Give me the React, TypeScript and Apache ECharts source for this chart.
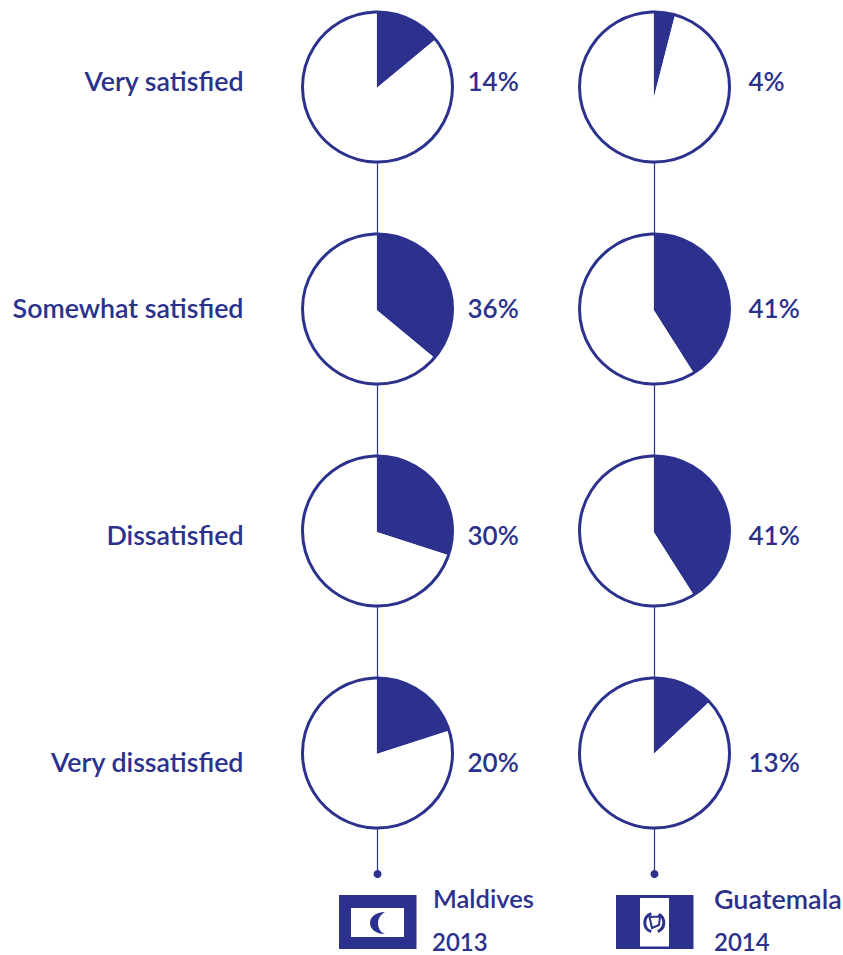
import React, { useEffect, useRef } from "react";
import * as echarts from "echarts";

const INK = "#2b318c";
const FONT = "Lato, sans-serif";
const categories = ["Very satisfied", "Somewhat satisfied", "Dissatisfied", "Very dissatisfied"];
const maldives = [14, 36, 30, 20];
const guatemala = [4, 41, 41, 13];
const places = ["Maldives", "Guatemala"];
const years = ["2013", "2014"];
const rowY = [87, 309, 531, 753];
const labelY = [81, 308, 535, 762];
const colX = [377.5, 654.5];
const pctX = [467.5, 748.5];
const nameX = [433, 714];
const nameSize = [25.5, 26.9];
const R = 75;

echarts.graphic.registerShape("crescent", echarts.graphic.extendPath(
  "M16 0C6 0 0 6 0 13C0 20 6 26 16 26C11 24 8.5 19 8.5 13C8.5 8 11 3 16 0Z", {}
) as any);

export default function App() {
  const ref = useRef<HTMLDivElement>(null);
  useEffect(() => {
    const chart = echarts.init(ref.current!, null, { renderer: "svg" });
    const pieSeries: any[] = [];
    const graphics: any[] = [];
    [maldives, guatemala].forEach((values, c) => {
      values.forEach((v, r) => {
        const dy = c === 1 && r === 0 ? 10 : 0;
        pieSeries.push({
          type: "pie",
          center: [colX[c] - 0.8, rowY[r] + dy + 1],
          radius: [0, R + dy + 0.6],
          startAngle: 90,
          clockwise: true,
          silent: true,
          label: { show: false },
          labelLine: { show: false },
          data: [
            { name: categories[r], value: v, itemStyle: { color: INK } },
            { name: "rest", value: 100 - v, itemStyle: { color: "#ffffff" } },
          ],
        });
        graphics.push({
          type: "circle", z: 10, shape: { cx: colX[c], cy: rowY[r], r: R },
          style: { fill: "none", stroke: INK, lineWidth: 3 },
        });
        graphics.push({
          type: "text", z: 11, x: pctX[c], y: labelY[r],
          style: { text: `${v}%`, fill: INK, font: `600 26px ${FONT}`, textAlign: "left", textVerticalAlign: "middle" },
        });
        const y2 = r < 3 ? rowY[r + 1] - R : 874;
        graphics.push({
          type: "line", z: 9, shape: { x1: colX[c], y1: rowY[r] + R, x2: colX[c], y2 },
          style: { stroke: INK, lineWidth: 1.2 },
        });
      });
      graphics.push({ type: "circle", z: 10, shape: { cx: colX[c], cy: 874, r: 4 }, style: { fill: INK } });
    });
    categories.forEach((t, r) => {
      graphics.push({
        type: "text", z: 11, x: 243.5, y: labelY[r],
        style: { text: t, fill: INK, font: `600 26.8px ${FONT}`, textAlign: "right", textVerticalAlign: "middle" },
      });
    });
    places.forEach((p, i) => {
      graphics.push({ type: "text", x: nameX[i], y: 898, style: { text: p, fill: INK, font: `600 ${nameSize[i]}px ${FONT}`, textAlign: "left", textVerticalAlign: "middle" } });
      graphics.push({ type: "text", x: nameX[i] - (i === 0 ? 1 : 0), y: 941, style: { text: years[i], fill: INK, font: `600 24px ${FONT}`, textAlign: "left", textVerticalAlign: "middle" } });
    });
    graphics.push({ type: "rect", shape: { x: 339, y: 895, width: 77.5, height: 54 }, style: { fill: INK } });
    graphics.push({ type: "rect", shape: { x: 351, y: 908, width: 53, height: 29 }, style: { fill: "#fff" } });
    graphics.push({ type: "crescent", x: 370, y: 912, scaleX: 0.94, scaleY: 0.85, style: { fill: INK } });
    graphics.push({ type: "rect", shape: { x: 616, y: 895, width: 77.5, height: 54 }, style: { fill: INK } });
    graphics.push({ type: "rect", shape: { x: 640, y: 898, width: 29, height: 48.5 }, style: { fill: "#fff" } });
    graphics.push({ type: "arc", shape: { cx: 654.3, cy: 922.7, r: 9.5, startAngle: 1.9, endAngle: 4.4, clockwise: true }, style: { fill: "none", stroke: INK, lineWidth: 3 } });
    graphics.push({ type: "arc", shape: { cx: 654.3, cy: 922.7, r: 9.5, startAngle: -1.1, endAngle: 1.2, clockwise: true }, style: { fill: "none", stroke: INK, lineWidth: 3 } });
    graphics.push({ type: "polygon", shape: { points: [[649.5, 917], [660, 916.5], [659, 925], [652, 928]] }, style: { fill: "#fff", stroke: INK, lineWidth: 2 } });

    chart.setOption({
      animation: false,
      backgroundColor: "#ffffff",
      series: pieSeries,
      graphic: { elements: graphics },
    });
    return () => chart.dispose();
  }, []);
  return <div ref={ref} style={{ width: 843, height: 955, position: "absolute", left: 0, top: 0 }} />;
}
